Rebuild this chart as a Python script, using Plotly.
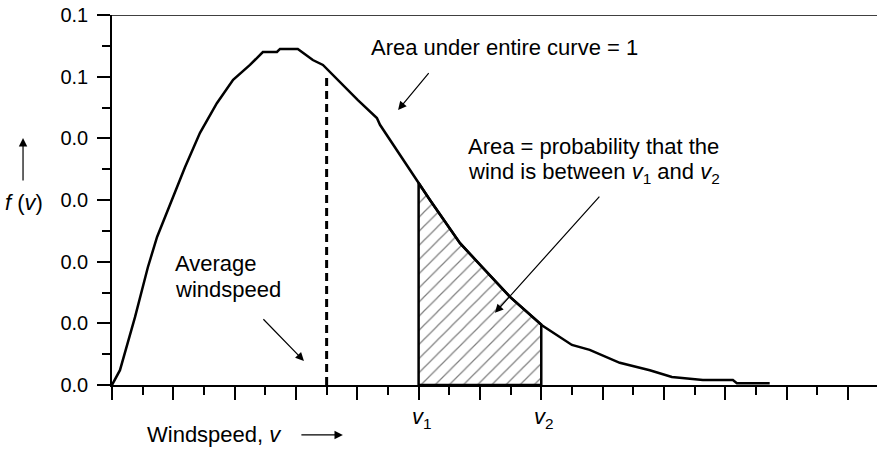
import numpy as np
import plotly.graph_objects as go

# ---- data ----
wind_speed = [0, 0.26, 0.75, 1.17, 1.47, 1.96, 2.38, 2.87, 3.42, 3.95, 4.50, 4.92, 5.38,
              5.48, 6.06, 6.55, 6.88, 8.02, 8.64, 8.74, 9.29, 9.98, 10.37, 11.35, 12.0,
              12.98, 14.02, 15.0, 15.58, 16.56, 17.54, 18.26, 19.27, 20.25, 20.38, 21.45]
density = [0, 0.0024, 0.0110, 0.0191, 0.0240, 0.0300, 0.0353, 0.0409, 0.0457, 0.0495,
           0.0519, 0.0540, 0.0540, 0.0545, 0.0545, 0.0527, 0.0519, 0.0462, 0.0433, 0.0422,
           0.0381, 0.0329, 0.0300, 0.0230, 0.0195, 0.0143, 0.0097, 0.0065, 0.0057, 0.0036,
           0.0024, 0.0013, 0.0008, 0.0008, 0.0003, 0.0003]

v_avg = 7
v1, v2 = 10, 14
y_tickvals = [0, 0.01, 0.02, 0.03, 0.04, 0.05, 0.06]
y_ticktext = ["0.0", "0.0", "0.0", "0.0", "0.0", "0.1", "0.1"]
x_major = list(range(0, 25, 2))

FONT = "Liberation Sans, Arial, Helvetica, sans-serif"
FS = 22
TFS = 20

ws = np.array(wind_speed)
dn = np.array(density)

fig = go.Figure()

# hatched area between v1 and v2
mask = (ws > v1) & (ws < v2)
px_ = [v1] + [v1] + list(ws[mask]) + [v2] + [v2]
py_ = [0] + [float(np.interp(v1, ws, dn))] + list(dn[mask]) + [float(np.interp(v2, ws, dn))] + [0]
fig.add_trace(go.Scatter(
    x=px_ + [v1], y=py_ + [0], mode="lines", fill="toself",
    line=dict(color="black", width=2.5),
    fillcolor="white",
    fillpattern=dict(shape="/", fgcolor="black", bgcolor="white", size=10, solidity=0.12),
    hoverinfo="skip", showlegend=False))

# main curve
fig.add_trace(go.Scatter(x=wind_speed, y=density, mode="lines",
                         line=dict(color="black", width=2.5), showlegend=False))

# average windspeed dashed line
fig.add_trace(go.Scatter(x=[v_avg, v_avg], y=[0, float(np.interp(v_avg, ws, dn)) - 0.0012],
                         mode="lines", line=dict(color="black", width=3, dash="8px,5px"),
                         showlegend=False))

fig.update_layout(
    width=877, height=450,
    margin=dict(l=112, r=0, t=15, b=65),
    paper_bgcolor="white", plot_bgcolor="white",
    font=dict(family=FONT, size=FS, color="black"),
    xaxis=dict(range=[0, 24.95], showgrid=False, zeroline=False,
               showline=True, linecolor="black", linewidth=1.5,
               ticks="outside", tickvals=x_major, ticklen=13, tickwidth=1.5, tickcolor="black",
               showticklabels=False,
               minor=dict(tickvals=list(range(1, 25, 2)), ticks="outside", ticklen=8,
                          tickwidth=1.5, tickcolor="black", showgrid=False)),
    yaxis=dict(range=[0, 0.06], showgrid=False, zeroline=False,
               showline=True, linecolor="black", linewidth=1.5,
               ticks="outside", tickvals=y_tickvals, ticktext=y_ticktext,
               ticklen=13, tickwidth=1.5, tickcolor="black",
               tickfont=dict(size=TFS, family=FONT, color="black"),
               ticklabelstandoff=5,
               minor=dict(tickvals=[0.005, 0.015, 0.025, 0.035, 0.045, 0.055], ticks="outside",
                          ticklen=8, tickwidth=1.5, tickcolor="black", showgrid=False)),
)

# top border line
fig.add_shape(type="line", xref="paper", yref="y", x0=0, x1=1, y0=0.06, y1=0.06,
              line=dict(color="black", width=1.5))

ann = []
def text(x, y, t, xref="x", yref="y", xanchor="left", size=FS):
    ann.append(dict(x=x, y=y, xref=xref, yref=yref, text=t, showarrow=False,
                    xanchor=xanchor, yanchor="middle", borderpad=0,
                    font=dict(size=size, family=FONT, color="black")))

def arrow(x, y, ax, ay, xref="x", yref="y", axref="x", ayref="y"):
    ann.append(dict(x=x, y=y, ax=ax, ay=ay, xref=xref, yref=yref, axref=axref, ayref=ayref,
                    text="", showarrow=True, arrowhead=2, arrowsize=1.4, arrowwidth=1.2,
                    arrowcolor="black"))

text(8.42, 0.05465, "Area under entire curve = 1")
arrow(9.33, 0.0446, 10.37, 0.0508)

text(11.58, 0.03867, "Area = probability that the")
text(11.58, 0.03446, "wind is between <i>v</i><sub>1</sub> and <i>v</i><sub>2</sub>")
arrow(12.49, 0.0117, 15.94, 0.0308)

text(2.02, 0.01970, "Average")
text(2.02, 0.01549, "windspeed")
arrow(6.26, 0.0039, 4.89, 0.0109)

# x labels for v1 and v2
text(v1 + 0.1, -0.089, "<i>v</i><sub>1</sub>", yref="paper", xanchor="center")
text(v2 + 0.1, -0.089, "<i>v</i><sub>2</sub>", yref="paper", xanchor="center")

# axis titles
text(1.12, -0.135, "Windspeed, <i>v</i>", yref="paper")
arrow(7.53, -0.135, -43, 0, yref="paper", axref="pixel", ayref="pixel")
text(-0.115, 0.492, "<i>f</i> (<i>v</i>)", xref="paper", yref="paper", xanchor="center")
arrow(-0.1163, 0.6676, 0, 44, xref="paper", yref="paper", axref="pixel", ayref="pixel")

fig.update_layout(annotations=ann)
fig.write_html("out.html", config={"displayModeBar": False},
               post_script="document.body.style.margin='0';document.body.style.padding='0';")
